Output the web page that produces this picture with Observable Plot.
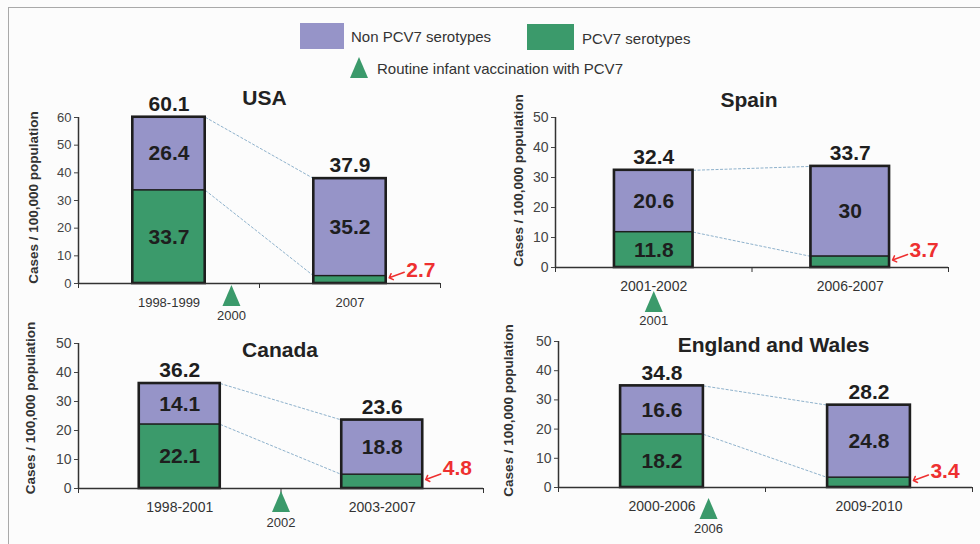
<!DOCTYPE html>
<html><head><meta charset="utf-8">
<script src="https://cdn.jsdelivr.net/npm/d3@7"></script>
<script src="https://cdn.jsdelivr.net/npm/@observablehq/plot@0.6"></script>
<style>
body{margin:0;background:#fcfcfc;font-family:"Liberation Sans",Arial,sans-serif;}
#wrap{position:relative;width:980px;height:544px;overflow:hidden;background:#fcfcfc;}
.frameTop{position:absolute;left:8px;top:7px;width:972px;height:0;border-top:1.5px solid #a9a9a9;}
.frameLeft{position:absolute;left:8px;top:7px;width:0;height:537px;border-left:1.5px solid #a9a9a9;}
.panel{position:absolute;}
.lg{position:absolute;font-size:15px;line-height:18px;color:#333;white-space:nowrap;}
.sw{position:absolute;}
</style></head>
<body>
<div id="wrap">
  <div class="frameTop"></div><div class="frameLeft"></div>
  <div class="sw" id="sw0" style="left:300px;top:23px;width:44px;height:26px;"></div>
  <div class="lg" id="lg0" style="left:351px;top:28px;"></div>
  <div class="sw" id="sw1" style="left:527px;top:24px;width:47px;height:26px;"></div>
  <div class="lg" id="lg1" style="left:582px;top:30px;"></div>
  <svg class="sw" style="left:350px;top:57px;" width="18" height="21"><polygon id="lgTri" points="9,0 18,21 0,21"></polygon></svg>
  <div class="lg" id="lg2" style="left:377px;top:60px;"></div>
</div>
<script>
// ---------- data ----------
const countries = ["USA", "Spain", "Canada", "England and Wales"];
const periods = [["1998-1999", "2007"], ["2001-2002", "2006-2007"], ["1998-2001", "2003-2007"], ["2000-2006", "2009-2010"]];
const pcv7 = [[33.7, 2.7], [11.8, 3.7], [22.1, 4.8], [18.2, 3.4]];
const nonPcv7 = [[26.4, 35.2], [20.6, 30], [14.1, 18.8], [16.6, 24.8]];
const totals = [[60.1, 37.9], [32.4, 33.7], [36.2, 23.6], [34.8, 28.2]];
const vaccYears = ["2000", "2001", "2002", "2006"];
const yTicks = [[0, 10, 20, 30, 40, 50, 60], [0, 10, 20, 30, 40, 50], [0, 10, 20, 30, 40, 50], [0, 10, 20, 30, 40, 50]];
const seriesNames = ["Non PCV7 serotypes", "PCV7 serotypes"];
const legendNote = "Routine infant vaccination with PCV7";
const yLabel = "Cases / 100,000 population";

// ---------- styles / layout ----------
const PURPLE = "#9694c8", GREEN = "#3b9a6b", RED = "#ee3030", INK = "#1e1e1e";
const FONT = "'Liberation Sans', Arial, sans-serif";
const layout = [
  {left: 0, top: 80, width: 470, height: 245, mL: 78, mR: 30, mT: 37, mB: 42, titleDy: -19, titleDx: 5, vaccX: 0.845, triDy: 12, yearDy: 32, tickFont: 13, catFont: 13, labDx: -45, labDy: -3},
  {left: 490, top: 85, width: 490, height: 245, mL: 65, mR: 32, mT: 32, mB: 63, titleDy: -17, titleDx: -3, vaccX: 0.5, triDy: 34, yearDy: 53, tickFont: 14, catFont: 14, labDx: -37, labDy: -12},
  {left: 0, top: 325, width: 490, height: 219, mL: 78, mR: 7, mT: 18, mB: 56, titleDy: 7, titleDx: -1, vaccX: 1.0, triDy: 13, yearDy: 34, tickFont: 14, catFont: 14, labDx: -48, labDy: -8},
  {left: 490, top: 325, width: 490, height: 219, mL: 68, mR: 8, mT: 16, mB: 57, titleDy: 4, titleDx: 8, vaccX: 0.725, triDy: 21, yearDy: 41, tickFont: 14, catFont: 14, labDx: -50, labDy: -4}
];
const half = 0.2;

// tall triangle symbol
const tallTriangle = {
  draw(ctx, size) {
    const r = Math.sqrt(size / Math.PI);
    const h = r * 1.17;
    ctx.moveTo(0, -h);
    ctx.lineTo(r, h);
    ctx.lineTo(-r, h);
    ctx.closePath();
  }
};

// legend
document.getElementById("sw0").style.background = PURPLE;
document.getElementById("sw1").style.background = GREEN;
document.getElementById("lgTri").setAttribute("fill", GREEN);
document.getElementById("lg0").textContent = seriesNames[0];
document.getElementById("lg1").textContent = seriesNames[1];
document.getElementById("lg2").textContent = legendNote;

const wrap = document.getElementById("wrap");

layout.forEach((L, k) => {
  const n = periods[k].length;
  const rows = [];
  periods[k].forEach((p, i) => {
    rows.push({i, period: p, series: seriesNames[1], y1: 0, y2: pcv7[k][i], v: pcv7[k][i]});
    rows.push({i, period: p, series: seriesNames[0], y1: pcv7[k][i], y2: pcv7[k][i] + nonPcv7[k][i], v: nonPcv7[k][i]});
  });
  const bars = periods[k].map((p, i) => ({i, period: p, total: totals[k][i], pcv: pcv7[k][i]}));
  const links = [
    {a: totals[k][0], b: totals[k][1]},
    {a: pcv7[k][0], b: pcv7[k][1]}
  ];
  const inner = rows.filter(d => d.series === seriesNames[0] || d.i === 0);
  const yMax = d3.max(yTicks[k]);

  const chart = Plot.plot({
    width: L.width, height: L.height,
    marginLeft: L.mL, marginRight: L.mR, marginTop: L.mT, marginBottom: L.mB,
    x: {domain: [0, n], axis: null},
    y: {domain: [0, yMax], axis: null},
    color: {domain: seriesNames, range: [PURPLE, GREEN]},
    style: {fontFamily: FONT, background: "transparent", overflow: "visible"},
    marks: [
      Plot.link(links, {x1: () => 0.5 + half, y1: "a", x2: () => 1.5 - half, y2: "b", stroke: "#8fb2cc", strokeWidth: 1, strokeDasharray: "3,1.5"}),
      Plot.rect(rows, {x1: d => d.i + 0.5 - half, x2: d => d.i + 0.5 + half, y1: "y1", y2: "y2", fill: "series", stroke: INK, strokeWidth: 1.3}),
      Plot.rect(bars, {x1: d => d.i + 0.5 - half, x2: d => d.i + 0.5 + half, y1: () => 0, y2: "total", fill: "none", stroke: INK, strokeWidth: 2.6}),
      Plot.ruleY([0], {stroke: "#333", strokeWidth: 1.5}),
      Plot.ruleX([0], {y1: () => 0, y2: () => yMax, stroke: "#333", strokeWidth: 1.5}),
      Plot.axisY({ticks: yTicks[k], tickSize: 4, tickPadding: 3, fontSize: L.tickFont, color: "#444", label: null}),
      Plot.axisX({ticks: d3.range(n + 1), tickSize: 5, tickFormat: () => "", color: "#333", label: null}),
      Plot.text(bars, {x: d => d.i + 0.5, y: () => 0, text: "period", dy: 19, fontSize: L.catFont, fill: "#333"}),
      Plot.text(inner, {x: d => d.i + 0.5, y: d => (d.y1 + d.y2) / 2, text: d => String(d.v), fontSize: 21, fontWeight: "bold", fill: INK}),
      Plot.text(bars, {x: d => d.i + 0.5, y: "total", text: d => String(d.total), dy: -13, fontSize: 21, fontWeight: "bold", fill: INK}),
      Plot.text(bars.slice(1), {x: d => d.i + 0.5 + half, y: "pcv", text: d => String(d.pcv), dx: 20, dy: -6, textAnchor: "start", fontSize: 21, fontWeight: "bold", fill: RED}),
      Plot.vector(bars.slice(1), {x: d => d.i + 0.5 + half, y: d => d.pcv / 2, anchor: "end", rotate: 250, length: 16, dx: 3, dy: -2, stroke: RED, strokeWidth: 1.5, shape: "arrow"}),
      Plot.dot([vaccYears[k]], {x: () => L.vaccX, y: () => 0, dy: L.triDy, symbol: tallTriangle, r: 9, fill: GREEN, stroke: "none"}),
      Plot.text([vaccYears[k]], {x: () => L.vaccX, y: () => 0, text: d => d, dy: L.yearDy, fontSize: 13, fill: "#333"}),
      Plot.text([countries[k]], {frameAnchor: "top", text: d => d, dy: L.titleDy, dx: L.titleDx, lineAnchor: "middle", fontSize: 21, fontWeight: "bold", fill: "#222"}),
      Plot.text([yLabel], {frameAnchor: "left", text: d => d, rotate: -90, dx: L.labDx, dy: L.labDy, textAnchor: "middle", lineAnchor: "middle", fontSize: 13.5, fontWeight: "bold", fill: "#333"})
    ]
  });
  const div = document.createElement("div");
  div.className = "panel";
  div.style.left = L.left + "px";
  div.style.top = L.top + "px";
  div.appendChild(chart);
  wrap.appendChild(div);
});
</script>
</body></html>
